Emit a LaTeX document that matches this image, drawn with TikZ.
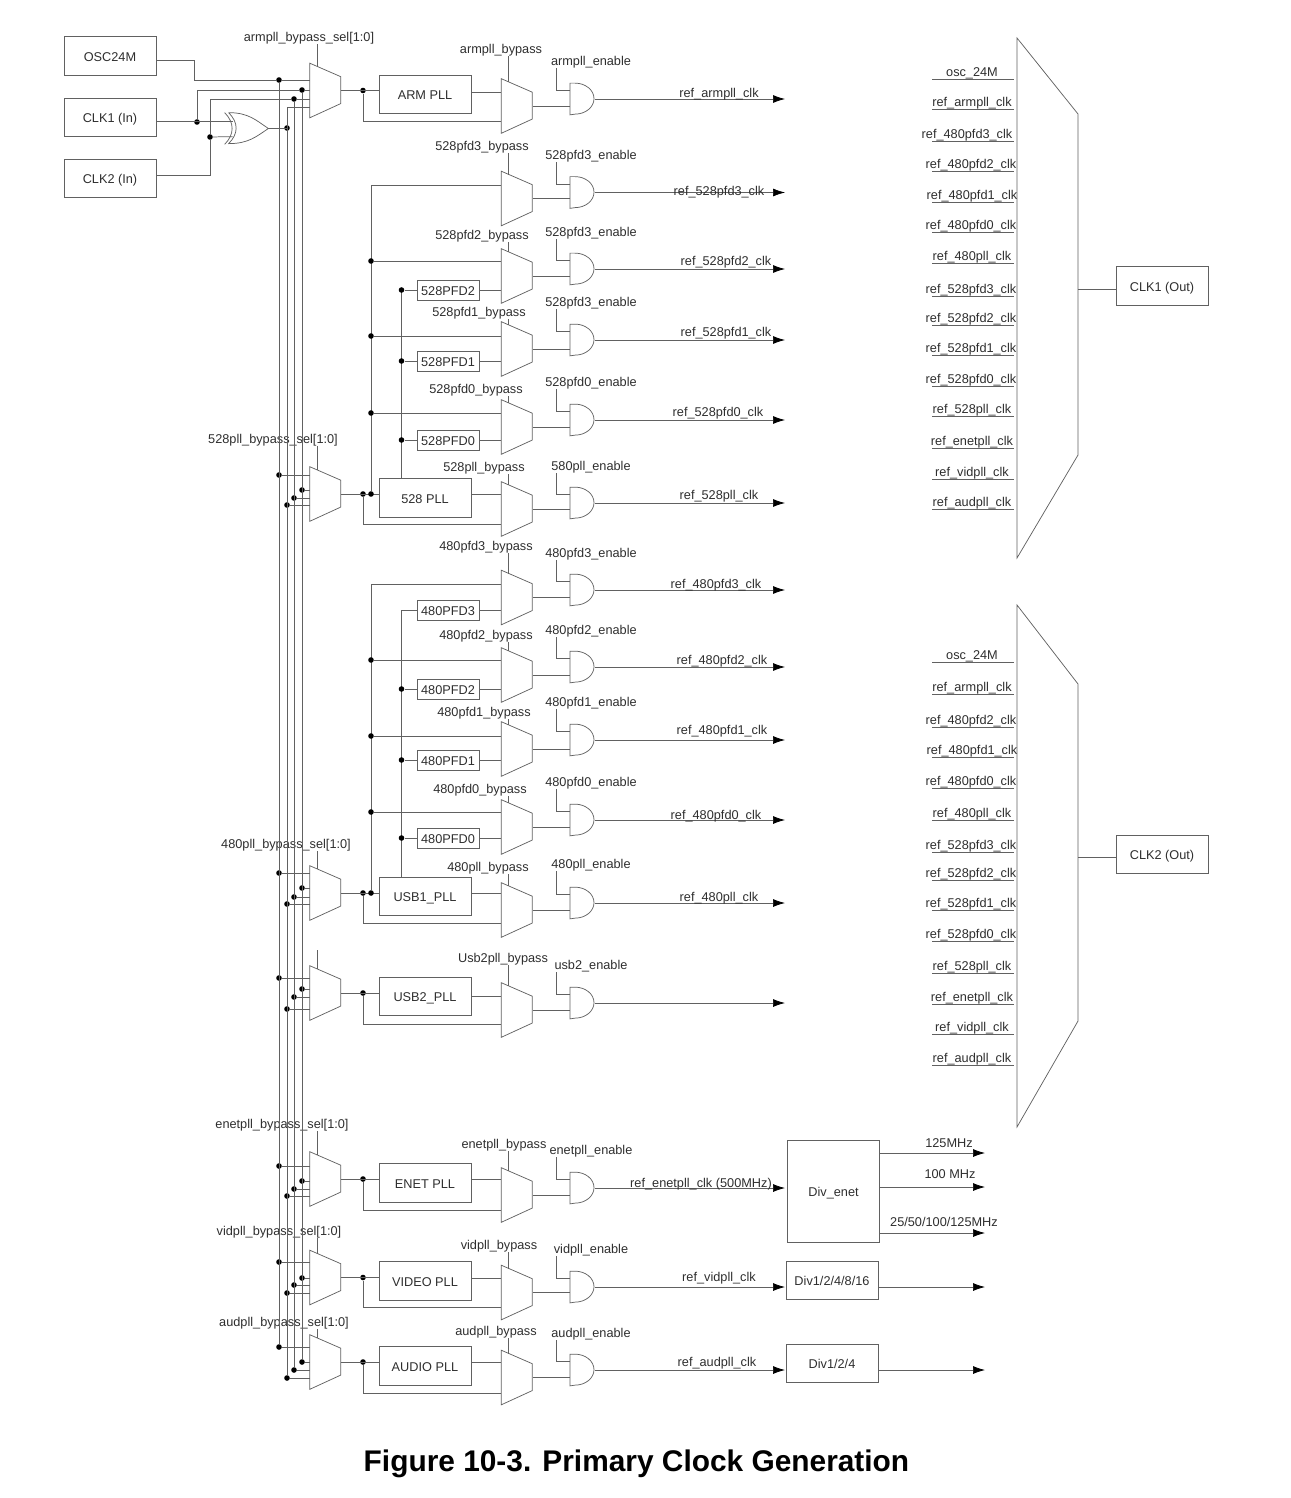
\documentclass[tikz,border=0pt]{standalone}
\usepackage{fontspec}
\setmainfont{Liberation Sans}
\usetikzlibrary{arrows.meta}
\definecolor{wirecol}{gray}{0.38}
\definecolor{textcol}{gray}{0.18}
\newcommand{\muxbody}[1]{%
  \draw (#1.north west) -- ++(31,13.5) -- ++(0,27) -- (#1.south west) -- cycle;
  \path (#1.north west) ++(7.5,3.5) coordinate (#1-top);
}
\newcommand{\andbody}[1]{%
  \draw (#1.north west) -- ++(5,0) arc[start angle=90,end angle=-90,x radius=14.25pt,y radius=11.625pt] -- (#1.south west) -- cycle;
  \path (#1.north west) ++(0,7.5) coordinate (#1-ina);
  \path (#1.north west) ++(0,23) coordinate (#1-inb);
}

\begin{document}
\begin{tikzpicture}[
  x=0.75pt,y=-0.75pt,
  wirecol,line width=0.55pt,
  every node/.style={font=\fontsize{9.55}{11}\selectfont,text=textcol},
  lbl/.style={inner sep=0pt,yshift=-0.75pt},
  box/.style={draw,inner sep=0pt,minimum width=69pt,minimum height=29pt,text height=9pt,text depth=1pt},
  pfdbox/.style={draw,inner sep=0pt,minimum width=46.5pt,minimum height=15pt,text height=9pt,text depth=1pt},
  mux/.style={inner sep=0pt,minimum width=23.25pt,minimum height=40.5pt},
  andg/.style={inner sep=0pt,anchor=west,minimum width=18pt,minimum height=23.25pt},
  dot/.style={circle,fill=black,inner sep=0pt,minimum size=4.2pt},
  sig/.style={-{Latex[length=9pt,width=6pt,black]}}
]
  \useasboundingbox (0,0) rectangle (1290,1498);
  \coordinate (arrowend) at (785,0);
  \coordinate (farend) at (985,0);
  \coordinate (stub) at (556,0);

  % source boxes
  \node[box] (osc) at (110,56) {OSC24M};
  \node[box] (clkin1) at (110,117.5) {CLK1 (In)};
  \node[box] (clkin2) at (110,178.5) {CLK2 (In)};
  \node[inner sep=0pt,minimum width=32.25pt,minimum height=23.25pt] (xorclk) at (246.5,128.5) {};
  \draw (xorclk.north west) .. controls ++(10,10) and ++(10,-10) .. (xorclk.south west);
  \draw (xorclk.north west) ++(4,0) coordinate (xorback) .. controls ++(10,10) and ++(10,-10) .. ++(0,31)
    .. controls ++(20,0) and ++(-12,8) .. (xorclk.east) .. controls ++(-12,-8) and ++(20,0) .. (xorback);
  \path (xorclk.north west) ++(8,9) coordinate (xorclk-ina);
  \path (xorclk.north west) ++(8,24) coordinate (xorclk-inb);

  % bypass muxes, enable gates, outputs
  \foreach \row/\ym/\ga/\bx/\by/\btxt/\ey/\etxt in {
    arm/106/99/501/49/armpll\_bypass/61/armpll\_enable,
    da3/198.5/192.5/482/146/528pfd3\_bypass/155/528pfd3\_enable,
    da2/276/269/482/235/528pfd2\_bypass/232/528pfd3\_enable,
    da1/349/340/479/312/528pfd1\_bypass/302/528pfd3\_enable,
    da0/427/420/476/389/528pfd0\_bypass/382/528pfd0\_enable,
    pa/509/503/484/467/528pll\_bypass/466/580pll\_enable,
    db3/597.5/590/486/546/480pfd3\_bypass/553/480pfd3\_enable,
    db2/675/667/486/635/480pfd2\_bypass/630/480pfd2\_enable,
    db1/749/740/484/712/480pfd1\_bypass/702/480pfd1\_enable,
    db0/827/820/480/789/480pfd0\_bypass/782/480pfd0\_enable,
    pb/910/903/488/867/480pll\_bypass/864/480pll\_enable,
    usb/1010/1003/503/958/Usb2pll\_bypass/965/usb2\_enable,
    enet/1195/1188/504/1144/enetpll\_bypass/1150/enetpll\_enable,
    vid/1292.5/1287/499/1245/vidpll\_bypass/1249/vidpll\_enable,
    aud/1377.5/1370/496/1331/audpll\_bypass/1333/audpll\_enable}{
    \node[mux] (\row-mux) at (517,\ym) {};
    \muxbody{\row-mux}
    \node[andg] (\row-and) at (570,\ga) {};
    \andbody{\row-and}
    \node[lbl] (\row-byp) at (\bx,\by) {\btxt};
    \node[lbl] (\row-en) at (591,\ey) {\etxt};
    \draw (\row-byp.south -| \row-mux-top) -- (\row-mux-top);
    \draw (\row-mux.east) -- (\row-mux.east -| \row-and-inb);
    \draw (\row-and-ina) -| (\row-en.south -| stub);
    \draw[sig] (\row-and.east) -- (\row-and.east -| arrowend);
  }

  % output names
  \foreach \row/\ox/\oy/\otxt in {
    arm/719/93/ref\_armpll\_clk,da3/719/191/ref\_528pfd3\_clk,da2/726/261/ref\_528pfd2\_clk,
    da1/726/332/ref\_528pfd1\_clk,da0/718/412/ref\_528pfd0\_clk,pa/719/495/ref\_528pll\_clk,
    db3/716/584/ref\_480pfd3\_clk,db2/722/660/ref\_480pfd2\_clk,db1/722/730/ref\_480pfd1\_clk,
    db0/716/815/ref\_480pfd0\_clk,pb/719/897/ref\_480pll\_clk,enet/701/1183/ref\_enetpll\_clk (500MHz),
    vid/719/1277/ref\_vidpll\_clk,aud/717/1362/ref\_audpll\_clk}{
    \node[lbl] (\row-out) at (\ox,\oy) {\otxt};
  }

  % selector muxes and PLLs
  \foreach \row/\sy/\py/\ptxt/\up/\lo/\lx/\ly/\ltxt in {
    arm/90.5/94.5/ARM PLL/92/121/309/37/armpll\_bypass\_sel[1:0],
    pa/494/498/528 PLL/494/524/273/439/528pll\_bypass\_sel[1:0],
    pb/893/896.5/USB1\_PLL/893/923/286/844/480pll\_bypass\_sel[1:0],
    usb/993/996.5/USB2\_PLL/996/1024/317/948/{},
    enet/1179/1183/ENET PLL/1179/1210/282/1124/enetpll\_bypass\_sel[1:0],
    vid/1277.5/1281/VIDEO PLL/1278/1307/279/1231/vidpll\_bypass\_sel[1:0],
    aud/1362/1366/AUDIO PLL/1362/1393/284/1322/audpll\_bypass\_sel[1:0]}{
    \node[mux] (\row-sel) at (325.5,\sy) {};
    \muxbody{\row-sel}
    \node[lbl] (\row-sellbl) at (\lx,\ly) {\ltxt};
    \node[box] (\row-pll) at (425,\py) {\ptxt};
    \node[dot] (\row-tee) at (363,\sy) {};
    \coordinate (\row-up) at (501,\up);
    \coordinate (\row-lo) at (501,\lo);
    \draw (\row-sellbl.south -| \row-sel-top) -- (\row-sel-top);
    \draw (\row-sel.east) -- (\row-sel.east -| \row-pll.west);
    \draw (\row-up -| \row-pll.east) -- (\row-up);
    \draw (\row-tee) |- (\row-lo);
  }

  % select bus taps
  \foreach \row/\ya/\yb/\yc/\yd in {
    pa/475/490/498/505,pb/873/888/897/904,usb/978/989/997/1009,
    enet/1166/1181/1189/1196,vid/1262/1278/1285/1293,aud/1347/1362/1370/1378}{
    \node[dot] (\row-a) at (279,\ya) {};
    \node[dot] (\row-b) at (302,\yb) {};
    \node[dot] (\row-c) at (294,\yc) {};
    \node[dot] (\row-d) at (287,\yd) {};
    \foreach \t in {a,b,c,d}{
      \draw (\row-\t) -- (\row-\t -| \row-sel.west);
    }
  }

  % top of the bus
  \node[dot] (arm-a) at (279,80) {};
  \node[dot] (arm-b) at (302,90) {};
  \node[dot] (arm-c) at (294,99) {};
  \coordinate (arm-d) at (287,107);
  \node[dot] (xor-d) at (287,128) {};
  \node[dot] (clk1-tee) at (197,122) {};
  \node[dot] (clk2-tee) at (210,137) {};
  \draw (osc.east |- 0,60) -| (194,80) -- (arm-a) -- (arm-a -| arm-sel.west);
  \draw (xorclk-ina) -- (xorclk-ina -| clkin1.east);
  \draw (clk1-tee) |- (arm-b) -- (arm-b -| arm-sel.west);
  \draw (clkin2.east |- 0,175) -| (clk2-tee) -- (clk2-tee |- arm-c) -- (arm-c) -- (arm-c -| arm-sel.west);
  \draw (clk2-tee) -- (xorclk-inb);
  \draw (xorclk.east) -- (xorclk.east -| xor-d);
  \draw (arm-sel.west |- arm-d) -- (arm-d) -- (aud-d);
  \draw (arm-a) -- (aud-a);
  \draw (arm-b) -- (aud-b);
  \draw (arm-c) -- (aud-c);

  % 528 clock tree
  \node[dot] (bus528) at (371,494) {};
  \draw (bus528) |- (501,185);
  \draw (pa-pll.north -| 401.5,0) -- (401.5,289);
  \foreach \row/\ty in {da2/261,da1/336,da0/413}{
    \node[dot] (\row-tap) at (371,\ty) {};
    \draw (\row-tap) -- (\row-tap -| \row-mux.west);
  }
  \foreach \row/\ty/\ptxt in {da2/290/528PFD2,da1/361/528PFD1,da0/440/528PFD0}{
    \node[pfdbox] (\row-pfd) at (448,\ty) {\ptxt};
    \node[dot] (\row-pfdtap) at (401.5,\ty) {};
    \draw (\row-pfdtap) -- (\row-pfd.west);
    \draw (\row-pfd.east) -- (\row-pfd.east -| \row-mux.west);
  }

  % 480 clock tree
  \node[dot] (bus480) at (371,893) {};
  \draw (bus480) |- (501,584);
  \node[pfdbox] (db3-pfd) at (448,610) {480PFD3};
  \draw (pb-pll.north -| 401.5,0) |- (db3-pfd.west);
  \draw (db3-pfd.east) -- (db3-pfd.east -| db3-mux.west);
  \foreach \row/\ty in {db2/660,db1/736,db0/812}{
    \node[dot] (\row-tap) at (371,\ty) {};
    \draw (\row-tap) -- (\row-tap -| \row-mux.west);
  }
  \foreach \row/\ty/\ptxt in {db2/689/480PFD2,db1/760/480PFD1,db0/838/480PFD0}{
    \node[pfdbox] (\row-pfd) at (448,\ty) {\ptxt};
    \node[dot] (\row-pfdtap) at (401.5,\ty) {};
    \draw (\row-pfdtap) -- (\row-pfd.west);
    \draw (\row-pfd.east) -- (\row-pfd.east -| \row-mux.west);
  }

  % dividers
  \node[draw,inner sep=0pt,minimum width=68.5pt,minimum height=77pt,text height=9pt,text depth=1pt] (divenet) at (833.5,1191.5) {Div\_enet};
  \node[draw,inner sep=0pt,minimum width=69pt,minimum height=28.5pt,text height=9pt,text depth=1pt] (divvid) at (832,1280) {Div1/2/4/8/16};
  \node[draw,inner sep=0pt,minimum width=69pt,minimum height=28.5pt,text height=9pt,text depth=1pt] (divaud) at (832,1363) {Div1/2/4};
  \node[lbl] (f125) at (949,1142) {125MHz};
  \node[lbl] (f100) at (950,1173) {100 MHz};
  \node[lbl] (fall) at (944,1221) {25/50/100/125MHz};
  \foreach \ty/\f in {1153/f125,1187/f100,1233/fall}{
    \draw[sig] (divenet.east |- 0,\ty) -- (farend |- 0,\ty);
  }
  \draw[sig] (vid-and.east -| divvid.east) -- (vid-and.east -| farend);
  \draw[sig] (aud-and.east -| divaud.east) -- (aud-and.east -| farend);

  % output selectors
  \draw (1017,38) -- (1078,114) -- (1078,455) -- (1017,558) -- cycle;
  \draw (1017,605) -- (1078,684) -- (1078,1021) -- (1017,1127) -- cycle;
  \node[box] (clkout1) at (1162,286) {CLK1 (Out)};
  \node[box] (clkout2) at (1162,854.5) {CLK2 (Out)};
  \coordinate (sel1out) at (1078,289);
  \coordinate (sel2out) at (1078,857);
  \draw (sel1out) -- (sel1out -| clkout1.west);
  \draw (sel2out) -- (sel2out -| clkout2.west);
  \foreach \tx/\ty/\ttxt in {
    972/72/osc\_24M,972/102/ref\_armpll\_clk,967/134/ref\_480pfd3\_clk,971/164/ref\_480pfd2\_clk,
    972/195/ref\_480pfd1\_clk,971/225/ref\_480pfd0\_clk,972/256/ref\_480pll\_clk,971/289/ref\_528pfd3\_clk,
    971/318/ref\_528pfd2\_clk,971/348/ref\_528pfd1\_clk,971/379/ref\_528pfd0\_clk,972/409/ref\_528pll\_clk,
    972/441/ref\_enetpll\_clk,972/472/ref\_vidpll\_clk,972/502/ref\_audpll\_clk,
    972/655/osc\_24M,972/687/ref\_armpll\_clk,971/720/ref\_480pfd2\_clk,972/750/ref\_480pfd1\_clk,
    971/781/ref\_480pfd0\_clk,972/813/ref\_480pll\_clk,971/845/ref\_528pfd3\_clk,971/873/ref\_528pfd2\_clk,
    971/903/ref\_528pfd1\_clk,971/934/ref\_528pfd0\_clk,972/966/ref\_528pll\_clk,972/997/ref\_enetpll\_clk,
    972/1027/ref\_vidpll\_clk,972/1058/ref\_audpll\_clk}{
    \node[lbl] (in\ty) at (\tx,\ty) {\ttxt};
    \draw (932,\ty+7) -- (1014,\ty+7);
  }

  \node[lbl,font=\bfseries\fontsize{22.4}{26}\selectfont,text=black] (title) at (636.5,1463) {Figure 10-3. Primary Clock Generation};
\end{tikzpicture}
\end{document}
